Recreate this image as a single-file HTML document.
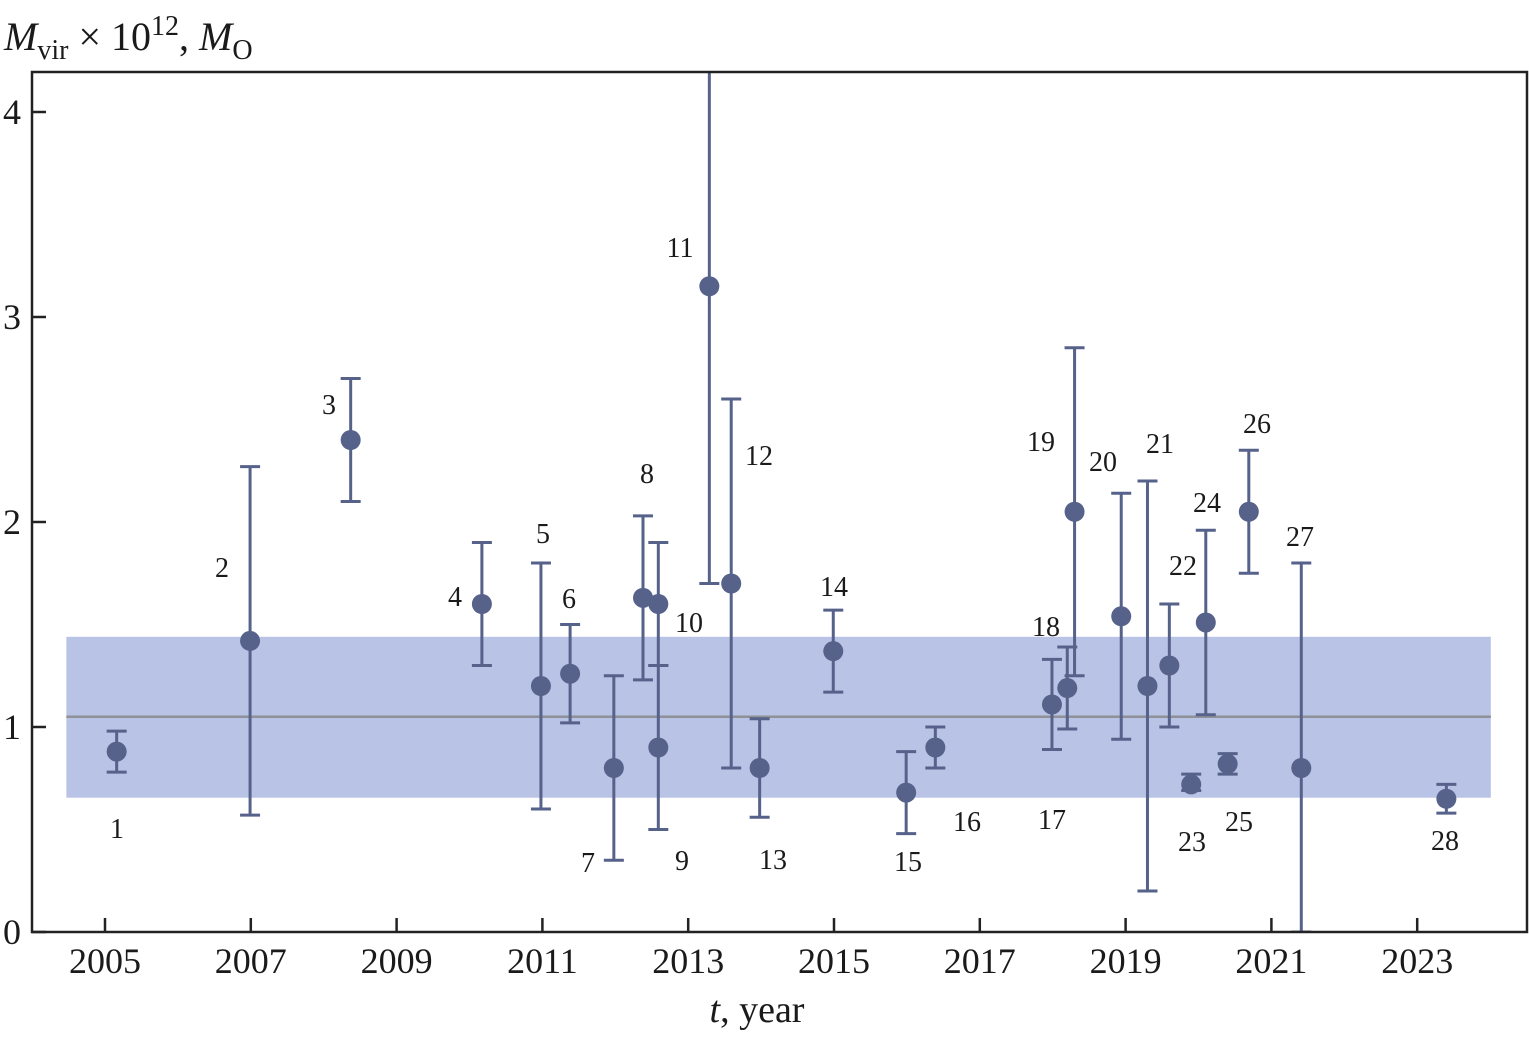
<!DOCTYPE html>
<html><head><meta charset="utf-8"><style>
html,body{margin:0;padding:0;background:#fff;}
svg text{font-family:"Liberation Serif",serif;fill:#1a1a1a;}
</style></head><body>
<svg id="chart" width="1529" height="1036" xmlns="http://www.w3.org/2000/svg"></svg>
<script>
const years=[2005.16,2006.99,2008.37,2010.17,2010.98,2011.38,2011.98,2012.38,2012.59,2012.59,2013.29,2013.59,2013.98,2014.99,2015.99,2016.39,2017.99,2018.2,2018.3,2018.94,2019.3,2019.6,2019.9,2020.1,2020.4,2020.69,2021.41,2023.4];
const values=[0.88,1.42,2.40,1.60,1.20,1.26,0.80,1.63,0.90,1.60,3.15,1.70,0.80,1.37,0.68,0.90,1.11,1.19,2.05,1.54,1.20,1.30,0.72,1.51,0.82,2.05,0.80,0.65];
const errHigh=[0.98,2.27,2.70,1.90,1.80,1.50,1.25,2.03,1.30,1.90,4.5,2.60,1.04,1.57,0.88,1.00,1.33,1.39,2.85,2.14,2.20,1.60,0.77,1.96,0.87,2.35,1.80,0.72];
const errLow=[0.78,0.57,2.10,1.30,0.60,1.02,0.35,1.23,0.50,1.30,1.70,0.80,0.56,1.17,0.48,0.80,0.89,0.99,1.25,0.94,0.20,1.00,0.69,1.06,0.77,1.75,0.0,0.58];
const labelPos=[[117,828],[222,567],[329,404],[455,596],[543,533],[569,598],[588,862],[647,473],[682,860],[689,622],[680,247],[759,455],[773,859],[834,586],[908,861],[967,821],[1052,819],[1046,626],[1041,441],[1103,461],[1160,443],[1183,565],[1192,841],[1207,502],[1239,821],[1257,423],[1300,536],[1445,840]];
const xTicks=[2005,2007,2009,2011,2013,2015,2017,2019,2021,2023];
const yTicks=[0,1,2,3,4];
const meanValue=1.05, bandLow=0.655, bandHigh=1.44, bandStart=2004.47, bandEnd=2024.01;

const L=32,R=1527,T=72,B=932;
const X=y=>105+(y-2005)*72.9;
const Y=v=>932-v*205;
const svg=document.getElementById('chart');
const NS='http://www.w3.org/2000/svg';
function mk(tag,attrs,parent){const e=document.createElementNS(NS,tag);for(const k in attrs)e.setAttribute(k,attrs[k]);(parent||svg).appendChild(e);return e;}
const defs=mk('defs',{});const cp=mk('clipPath',{id:'clip'},defs);mk('rect',{x:L,y:T,width:R-L,height:B-T},cp);

let band=mk('rect',{x:X(bandStart),y:Y(bandHigh),width:X(bandEnd)-X(bandStart),height:Y(bandLow)-Y(bandHigh),fill:'#b9c3e6'});


let mean=mk('line',{x1:X(bandStart),x2:X(bandEnd),y1:Y(meanValue),y2:Y(meanValue),stroke:'#8e9196','stroke-width':2.5});



const g=mk('g',{'clip-path':'url(#clip)'});
years.forEach((yr,i)=>{
  const x=X(yr),col='#56628a';
  const eg=mk('g',{},g);
  
  
  mk('line',{x1:x,x2:x,y1:Y(errHigh[i]),y2:Y(errLow[i]),stroke:col,'stroke-width':3},eg);
  mk('line',{x1:x-10,x2:x+10,y1:Y(errHigh[i]),y2:Y(errHigh[i]),stroke:col,'stroke-width':3},eg);
  mk('line',{x1:x-10,x2:x+10,y1:Y(errLow[i]),y2:Y(errLow[i]),stroke:col,'stroke-width':3},eg);
  mk('circle',{cx:x,cy:Y(values[i]),r:10,fill:col},eg);
});
labelPos.forEach((p,i)=>{
  const t=mk('text',{x:p[0],y:p[1]+10,'text-anchor':'middle','font-size':28});
  t.textContent=String(i+1);
  
  
});
const frame=mk('rect',{x:L,y:T,width:R-L,height:B-T,fill:'none',stroke:'#222','stroke-width':2.5});


xTicks.forEach(v=>{
  mk('line',{x1:X(v),x2:X(v),y1:B,y2:B-14,stroke:'#222','stroke-width':2.5});
  const t=mk('text',{x:X(v),y:B+41,'text-anchor':'middle','font-size':36});
  t.textContent=v;
  
  
});
yTicks.forEach(v=>{
  mk('line',{x1:L,x2:L+14,y1:Y(v),y2:Y(v),stroke:'#222','stroke-width':2.5});
  const t=mk('text',{x:L-11,y:Y(v)+12,'text-anchor':'end','font-size':36});
  t.textContent=v;
  
  
});
</script>
<svg style="position:absolute;left:0;top:0" width="1529" height="1036" xmlns="http://www.w3.org/2000/svg">
<text x="4" y="50" font-size="40" style="font-family:'Liberation Serif',serif"><tspan font-style="italic">M</tspan><tspan font-size="28" dy="9">vir</tspan><tspan dy="-9"> × 10</tspan><tspan font-size="28" dy="-15">12</tspan><tspan dy="15">, </tspan><tspan font-style="italic">M</tspan><tspan font-size="28" dy="9">O</tspan></text>
<text x="757" y="1022" text-anchor="middle" font-size="38" style="font-family:'Liberation Serif',serif"><tspan font-style="italic">t</tspan>, year</text>
</svg>
</body></html>
